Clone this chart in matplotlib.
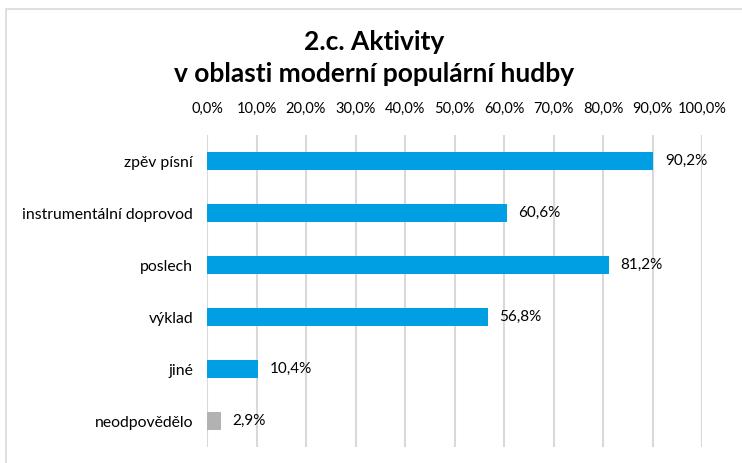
import matplotlib.pyplot as plt
from matplotlib.patches import Rectangle

categories = ['zpěv písní', 'instrumentální doprovod', 'poslech', 'výklad', 'jiné', 'neodpovědělo']
values = [90.2, 60.6, 81.2, 56.8, 10.4, 2.9]
colors = ['#009fe3'] * 5 + ['#b2b2b2']
ticks = list(range(0, 101, 10))

plt.rcParams['font.family'] = ['Lato', 'DejaVu Sans']

fig = plt.figure(figsize=(7.42, 4.63), dpi=100)
ax = fig.add_axes([207 / 742, 1 - 447 / 463, 495 / 742, 312 / 463])

# outer chart frame like the spreadsheet export
fig.patches.append(Rectangle((6 / 742, -0.1), 1.2, 1 - 9 / 463 + 0.1,
                             transform=fig.transFigure, fill=False,
                             edgecolor='#d9d9d9', linewidth=1.2))

y = list(range(len(categories)))
ax.barh(y, values, height=0.35, color=colors, zorder=3)
for yi, v in zip(y, values):
    ax.text(v + 2.3, yi, f'{v:.1f}%'.replace('.', ','), va='center', ha='left',
            fontsize=11, color='#000000')

ax.set_xlim(0, 100)
ax.set_ylim(5.5, -0.5)
ax.set_xticks(ticks)
ax.set_xticklabels([f'{t:.1f}%'.replace('.', ',') for t in ticks], fontsize=10.5)
ax.xaxis.tick_top()
ax.set_yticks(y)
ax.set_yticklabels(categories, fontsize=11.3)
ax.tick_params(length=0, pad=10)
ax.tick_params(axis='x', pad=14)
ax.grid(axis='x', color='#d9d9d9', linewidth=1.5, zorder=0)
for s in ax.spines.values():
    s.set_visible(False)

fig.text(0.5 * (1 + 6 / 742), 1 - 42 / 463, '2.c. Aktivity', ha='center', va='center',
         fontsize=19, fontweight='bold')
fig.text(0.5 * (1 + 6 / 742), 1 - 74 / 463, 'v oblasti moderní populární hudby', ha='center',
         va='center', fontsize=19, fontweight='bold')

fig.savefig('out.png', dpi=100)
